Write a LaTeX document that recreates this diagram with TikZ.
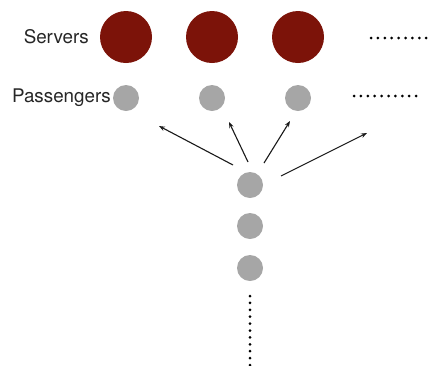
\documentclass[tikz,border=0pt]{standalone}
\usepackage{fontspec}
\setmainfont{TeX Gyre Heros}
\usetikzlibrary{arrows.meta}
\begin{document}
\begin{tikzpicture}[x=1pt,y=-1pt,
  server/.style={circle,fill=srv,minimum size=52pt,inner sep=0pt},
  pass/.style={circle,fill=psg,minimum size=26pt,inner sep=0pt},
  lbl/.style={font=\fontsize{18.8}{20}\selectfont,text=black!85,inner sep=0pt},
  dotrow/.style={line width=3pt,line cap=round,dash pattern=on 0pt off 6.9pt,black},
  arr/.style={-{Stealth[length=6pt,width=4.5pt]},line width=1.1pt,black!90}]
\definecolor{srv}{HTML}{7C1309}
\definecolor{psg}{HTML}{A6A6A6}
\useasboundingbox (0,0) rectangle (433,365);
\node[server] (s1) at (126,37) {};
\node[server] (s2) at (212,37) {};
\node[server] (s3) at (298,37) {};
\node[lbl,anchor=east] (ls) at (89,37) {Servers};
\node[pass] (p1) at (126,98) {};
\node[pass] (p2) at (212,98) {};
\node[pass] (p3) at (298,98) {};
\node[lbl,anchor=east] (lp) at (111,98) {Passengers};
\node[pass] (q1) at (250,185) {};
\node[pass] (q2) at (250,226) {};
\node[pass] (q3) at (250,268) {};
\coordinate (d1a) at (371,38);
\coordinate (d1b) at (430,38);
\coordinate (d2a) at (354,96);
\coordinate (d2b) at (422,96);
\coordinate (d3a) at (250,296);
\coordinate (d3b) at (250,366);
\draw[dotrow] (d1a) -- (d1b);
\draw[dotrow] (d2a) -- (d2b);
\draw[dotrow] (d3a) -- (d3b);
\coordinate (a1s) at (233,165); \coordinate (a1e) at (159,126);
\coordinate (a2s) at (248,162); \coordinate (a2e) at (229,122);
\coordinate (a3s) at (264,163); \coordinate (a3e) at (290,121);
\coordinate (a4s) at (281,176); \coordinate (a4e) at (367,133);
\draw[arr] (a1s) -- (a1e);
\draw[arr] (a2s) -- (a2e);
\draw[arr] (a3s) -- (a3e);
\draw[arr] (a4s) -- (a4e);
\end{tikzpicture}
\end{document}
